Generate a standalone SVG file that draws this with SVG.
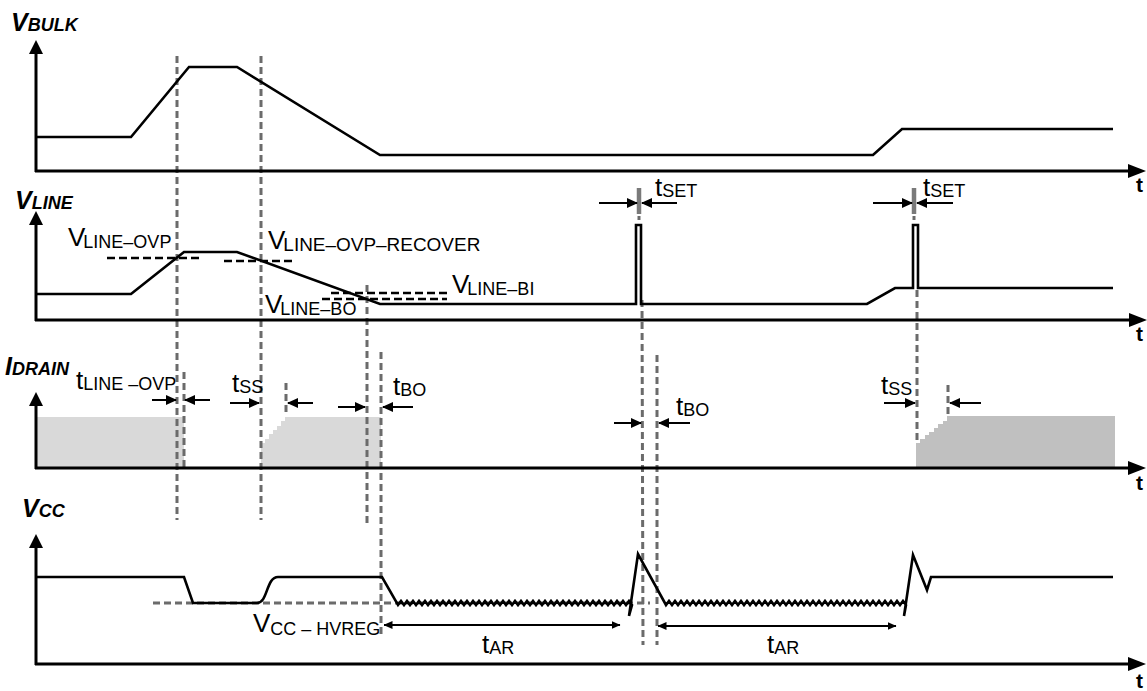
<svg xmlns="http://www.w3.org/2000/svg" width="1147" height="691" viewBox="0 0 1147 691">
<defs>
<marker id="ah" markerUnits="userSpaceOnUse" viewBox="0 0 11 10" markerWidth="11" markerHeight="10" refX="10" refY="5" orient="auto-start-reverse"><path d="M0,0 L11,5 L0,10 z" fill="#000"/></marker>
<marker id="ah2" markerUnits="userSpaceOnUse" viewBox="0 0 9 8" markerWidth="9" markerHeight="8" refX="8.5" refY="4" orient="auto-start-reverse"><path d="M0,0 L9,4 L0,8 z" fill="#000"/></marker>
</defs>
<style>
.ax{stroke:#000;stroke-width:3;fill:none}
.ah{fill:#000}
.wf{stroke:#000;stroke-width:2.6;fill:none;stroke-linejoin:miter}
.gd{stroke:#6b6b6b;stroke-width:3;stroke-dasharray:7 4;fill:none}
.gt{stroke:#7a7a7a;stroke-width:4.5;fill:none}
.bd{stroke:#000;stroke-width:2.5;stroke-dasharray:8 4;fill:none}
.ar{stroke:#000;stroke-width:2;fill:none;marker-end:url(#ah)}
.ard{stroke:#000;stroke-width:2;fill:none;marker-start:url(#ah2);marker-end:url(#ah2)}
.lbl{font-family:"Liberation Sans",Arial,sans-serif;font-size:26px;fill:#000}
.sub{font-size:18px}
.axl{font-family:"Liberation Sans",Arial,sans-serif;font-weight:bold;font-style:italic;font-size:25px;fill:#000}
.axs{font-size:18px}
.tl{font-family:"Liberation Sans",Arial,sans-serif;font-weight:bold;font-size:21px;fill:#000}
</style>

<g id="idrain-fills">
<rect x="37" y="417" width="147" height="51" fill="#d9d9d9"/>
<polygon fill="#d9d9d9" points="261,468 261,443 265,443 265,439 269,439 269,434 273,434 273,430 277,430 277,426 281,426 281,421 285,421 285,417 381,417 381,468"/>
<polygon fill="#c0c0c0" points="916,468 916,443 920,443 920,439 925,439 925,435 929,435 929,432 934,432 934,428 938,428 938,424 943,424 943,421 947,421 947,416 1115,416 1115,468"/>
</g>

<g id="connectors">
<line class="gd" x1="177" y1="56" x2="177" y2="520"/>
<line class="gd" x1="261" y1="56" x2="261" y2="520"/>
<line class="gd" x1="184" y1="372" x2="184" y2="467"/>
<line class="gd" x1="286" y1="383" x2="286" y2="416"/>
<line class="gd" x1="367" y1="285" x2="367" y2="524"/>
<line class="gd" x1="381" y1="352" x2="381" y2="637"/>
<line class="gt" x1="639" y1="188" x2="639" y2="214"/>
<line class="gd" x1="639" y1="216" x2="639" y2="220"/>
<line class="gd" x1="642" y1="300" x2="643" y2="645"/>
<line class="gd" x1="657" y1="355" x2="657" y2="645"/>
<line class="gt" x1="914" y1="188" x2="914" y2="214"/>
<line class="gd" x1="914" y1="216" x2="914" y2="220"/>
<line class="gd" x1="917" y1="290" x2="917" y2="443"/>
<line class="gd" x1="948" y1="385" x2="948" y2="416"/>
<line class="gd" x1="153" y1="603" x2="650" y2="603"/>
</g>

<g id="vbulk">
<path class="wf" d="M36,137 L131,137 L189,67 L237,67 L380,155 L873,155 L902,129 L1113,129"/>
<line class="ax" x1="36" y1="52" x2="36" y2="172"/>
<polygon class="ah" points="36,40 29,54 43,54"/>
<line class="ax" x1="35" y1="171" x2="1130" y2="171"/>
<polygon class="ah" points="1128,164 1146,171 1128,178"/>
<text class="axl" x="11" y="31">V<tspan class="axs">BULK</tspan></text>
<text class="tl" x="1136" y="192">t</text>
</g>

<g id="vline">
<path class="bd" d="M107,258 L203,258"/>
<path class="bd" d="M224,261 L295,261"/>
<path class="bd" d="M331,293 L447,293"/>
<path class="bd" d="M322,299 L447,299"/>
<path class="wf" d="M36,294 L131,294 L184,252 L237,252 L380,304 L636,304 L636,225 L641,225 L641,304 L867,304 L895,288 L913,288 L913,225 L918,225 L918,288 L1113,288"/>
<line class="ax" x1="36" y1="222" x2="36" y2="321"/>
<polygon class="ah" points="36,211 29,225 43,225"/>
<line class="ax" x1="35" y1="320" x2="1130" y2="320"/>
<polygon class="ah" points="1129,313 1147,320 1129,327"/>
<text class="axl" x="15" y="209">V<tspan class="axs">LINE</tspan></text>
<text class="tl" x="1136" y="341">t</text>
<text class="lbl" x="68" y="246">V<tspan class="sub" dx="-2" dy="2">LINE–OVP</tspan></text>
<text class="lbl" x="268" y="249">V<tspan class="sub" dx="-2" dy="2" textLength="197" lengthAdjust="spacingAndGlyphs">LINE–OVP–RECOVER</tspan></text>
<text class="lbl" x="265" y="313">V<tspan class="sub" dx="-2" dy="2">LINE–BO</tspan></text>
<text class="lbl" x="452" y="293">V<tspan class="sub" dx="-2" dy="2">LINE–BI</tspan></text>
<line class="ar" x1="599" y1="203" x2="637" y2="203"/>
<line class="ar" x1="677" y1="203" x2="642" y2="203"/>
<text class="lbl" x="655" y="196">t<tspan class="sub" dy="1">SET</tspan></text>
<line class="ar" x1="873" y1="203" x2="912" y2="203"/>
<line class="ar" x1="953" y1="203" x2="917" y2="203"/>
<text class="lbl" x="923" y="196">t<tspan class="sub" dy="1">SET</tspan></text>
</g>

<g id="idrain">
<line class="ax" x1="36" y1="404" x2="36" y2="469"/>
<polygon class="ah" points="36,392 29,406 43,406"/>
<line class="ax" x1="35" y1="468" x2="1130" y2="468"/>
<polygon class="ah" points="1128,461 1146,468 1128,475"/>
<text class="axl" x="5" y="375">I<tspan class="axs">DRAIN</tspan></text>
<text class="tl" x="1136" y="490">t</text>
<text class="lbl" x="76" y="389">t<tspan class="sub" dy="1">LINE –OVP</tspan></text>
<line class="ar" x1="152" y1="400" x2="176" y2="400"/>
<line class="ar" x1="210" y1="400" x2="185" y2="400"/>
<text class="lbl" x="232" y="392">t<tspan class="sub" dy="1">SS</tspan></text>
<line class="ar" x1="230" y1="403" x2="259" y2="403"/>
<line class="ar" x1="313" y1="403" x2="288" y2="403"/>
<text class="lbl" x="393" y="395">t<tspan class="sub" dy="1">BO</tspan></text>
<line class="ar" x1="338" y1="407" x2="365" y2="407"/>
<line class="ar" x1="413" y1="407" x2="383" y2="407"/>
<text class="lbl" x="676" y="415">t<tspan class="sub" dy="1">BO</tspan></text>
<line class="ar" x1="614" y1="423" x2="641" y2="423"/>
<line class="ar" x1="690" y1="423" x2="659" y2="423"/>
<text class="lbl" x="881" y="394">t<tspan class="sub" dy="1">SS</tspan></text>
<line class="ar" x1="884" y1="403" x2="915" y2="403"/>
<line class="ar" x1="981" y1="403" x2="950" y2="403"/>
</g>

<g id="vcc">
<path class="wf" d="M36,577 L184,577 L193,603 L257,603 C268,603 266,577 278,577 L382,577 L398,605 l3,-4 3,4 3,-4 3,4 3,-4 3,4 3,-4 3,4 3,-4 3,4 3,-4 3,4 3,-4 3,4 3,-4 3,4 3,-4 3,4 3,-4 3,4 3,-4 3,4 3,-4 3,4 3,-4 3,4 3,-4 3,4 3,-4 3,4 3,-4 3,4 3,-4 3,4 3,-4 3,4 3,-4 3,4 3,-4 3,4 3,-4 3,4 3,-4 3,4 3,-4 3,4 3,-4 3,4 3,-4 3,4 3,-4 3,4 3,-4 3,4 3,-4 3,4 3,-4 3,4 3,-4 3,4 3,-4 3,4 3,-4 3,4 3,-4 3,4 3,-4 3,4 3,-4 3,4 3,-4 3,4 3,-4 3,4 3,-4 3,4 3,-4 3,4 L629,616 L638,554 L666,605 l3,-4 3,4 3,-4 3,4 3,-4 3,4 3,-4 3,4 3,-4 3,4 3,-4 3,4 3,-4 3,4 3,-4 3,4 3,-4 3,4 3,-4 3,4 3,-4 3,4 3,-4 3,4 3,-4 3,4 3,-4 3,4 3,-4 3,4 3,-4 3,4 3,-4 3,4 3,-4 3,4 3,-4 3,4 3,-4 3,4 3,-4 3,4 3,-4 3,4 3,-4 3,4 3,-4 3,4 3,-4 3,4 3,-4 3,4 3,-4 3,4 3,-4 3,4 3,-4 3,4 3,-4 3,4 3,-4 3,4 3,-4 3,4 3,-4 3,4 3,-4 3,4 3,-4 3,4 3,-4 3,4 3,-4 3,4 3,-4 3,4 3,-4 3,4 3,-4 3,4 L904,616 L913,555 L927,590 L931,577 L1113,577"/>
<line class="ax" x1="36" y1="546" x2="36" y2="665"/>
<polygon class="ah" points="36,534 29,548 43,548"/>
<line class="ax" x1="35" y1="664" x2="1130" y2="664"/>
<polygon class="ah" points="1128,657 1146,664 1128,671"/>
<text class="axl" x="22" y="517">V<tspan class="axs">CC</tspan></text>
<text class="tl" x="1136" y="688">t</text>
<text class="lbl" x="253" y="632">V<tspan class="sub" dy="3">CC – HVREG</tspan></text>
<line class="ard" x1="384" y1="625" x2="620" y2="625"/>
<text class="lbl" x="482" y="653">t<tspan class="sub" dy="1">AR</tspan></text>
<line class="ard" x1="658" y1="626" x2="896" y2="626"/>
<text class="lbl" x="767" y="653">t<tspan class="sub" dy="1">AR</tspan></text>
</g>
</svg>
